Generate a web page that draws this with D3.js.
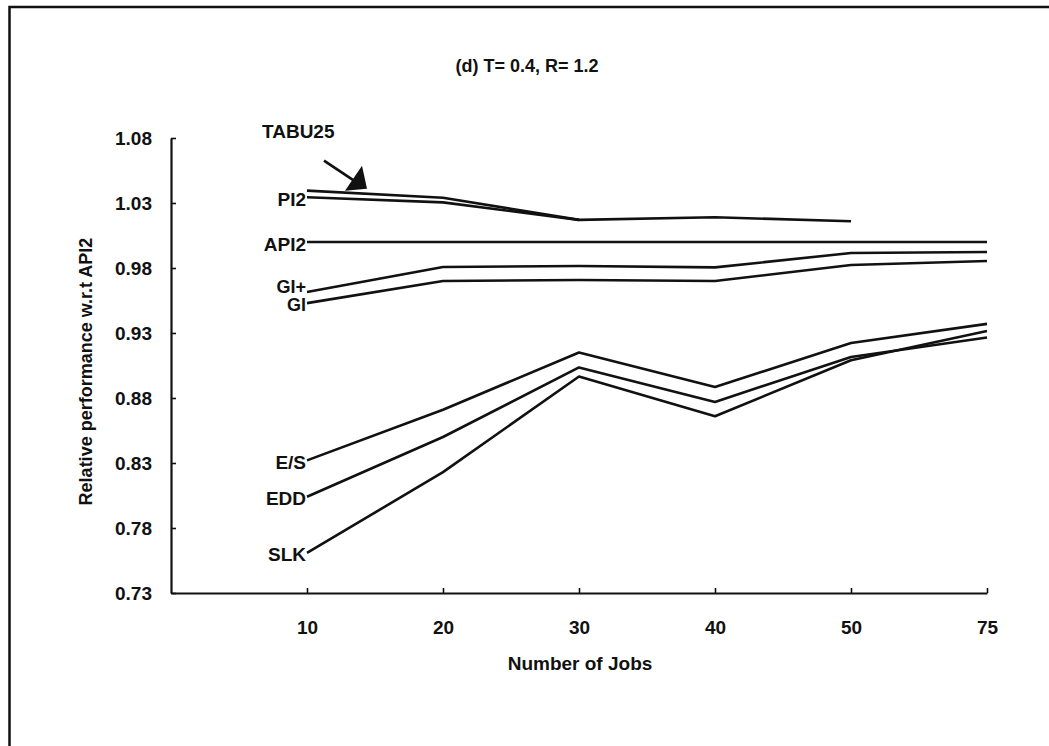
<!DOCTYPE html>
<html>
<head>
<meta charset="utf-8">
<script src="https://cdn.jsdelivr.net/npm/d3@7"></script>
<style>
  html, body { margin: 0; padding: 0; background: #fff; }
  svg { display: block; }
  text { font-family: "Liberation Sans", Arial, Helvetica, sans-serif; fill: #111; }
</style>
</head>
<body>
<svg id="chart" width="1049" height="746"></svg>
<script>
// ---- data ----
const categories = ["10", "20", "30", "40", "50", "75"];
const yTicks = [0.73, 0.78, 0.83, 0.88, 0.93, 0.98, 1.03, 1.08];

const TABU25 = [1.0395, 1.034, 1.017, 1.019, 1.016, null];
const PI2    = [1.0344, 1.0305, 1.017, null, null, null];
const API2   = [1.0, 1.0, 1.0, 1.0, 1.0, 1.0];
const GIplus = [0.9615, 0.9808, 0.9815, 0.9805, 0.9915, 0.9923];
const GI     = [0.953, 0.970, 0.9708, 0.970, 0.9823, 0.9854];
const ES     = [0.832, 0.871, 0.915, 0.8885, 0.9223, 0.937];
const EDD    = [0.804, 0.850, 0.9035, 0.877, 0.9115, 0.9265];
const SLK    = [0.7608, 0.823, 0.8965, 0.866, 0.909, 0.9315];

const seriesNames = ["TABU25", "PI2", "API2", "GI+", "GI", "E/S", "EDD", "SLK"];
const seriesValues = [TABU25, PI2, API2, GIplus, GI, ES, EDD, SLK];

const title = "(d) T= 0.4, R= 1.2";
const xTitle = "Number of Jobs";
const yTitle = "Relative performance w.r.t API2";

// ---- drawing ----
const svg = d3.select("#chart");
const W = 1049, H = 746;

// frame (top + left edges, as in the scanned figure)
svg.append("path")
  .attr("d", `M9.5,${H} L9.5,7 L${W},7`)
  .attr("fill", "none").attr("stroke", "#111").attr("stroke-width", 2.5);

const x = d3.scaleLinear().domain([-1, categories.length - 1]).range([171, 987]);
const y = d3.scaleLinear().domain([0.73, 1.08]).range([593, 138]);

// x axis
const xAxis = d3.axisBottom(x)
  .tickValues(d3.range(categories.length))
  .tickFormat(i => categories[i])
  .tickSize(-5).tickSizeOuter(0).tickPadding(28);
const gx = svg.append("g").attr("transform", `translate(0,${y(0.73)})`).call(xAxis);
gx.select(".domain").attr("stroke", "#111").attr("stroke-width", 2.2);
gx.selectAll(".tick line").attr("stroke", "#111").attr("stroke-width", 1.6);
gx.selectAll(".tick text").attr("font-size", 19).attr("font-weight", "bold")
  .attr("font-family", "Liberation Sans, Arial, sans-serif").attr("fill", "#111");

// y axis
const yAxis = d3.axisLeft(y)
  .tickValues(yTicks)
  .tickFormat(d3.format(".2f"))
  .tickSize(-5).tickSizeOuter(0).tickPadding(19);
const gy = svg.append("g").attr("transform", `translate(${x(-1)},0)`).call(yAxis);
gy.select(".domain").attr("stroke", "#111").attr("stroke-width", 2.2);
gy.selectAll(".tick line").attr("stroke", "#111").attr("stroke-width", 1.6);
gy.selectAll(".tick text").attr("font-size", 19).attr("font-weight", "bold")
  .attr("font-family", "Liberation Sans, Arial, sans-serif").attr("fill", "#111");

// titles
svg.append("text").attr("x", 527).attr("y", 66)
  .attr("text-anchor", "middle").attr("dominant-baseline", "central")
  .attr("font-size", 18).attr("font-weight", "bold").text(title);
svg.append("text").attr("x", 580).attr("y", 663)
  .attr("text-anchor", "middle").attr("dominant-baseline", "central")
  .attr("font-size", 19).attr("font-weight", "bold").text(xTitle);
svg.append("text")
  .attr("transform", `translate(86,${(y(0.73) + y(1.08)) / 2 + 6}) rotate(-90)`)
  .attr("text-anchor", "middle").attr("dominant-baseline", "central")
  .attr("font-size", 18).attr("font-weight", "bold").text(yTitle);

// lines
const line = d3.line()
  .defined(d => d != null)
  .x((d, i) => x(i))
  .y(d => y(d));

svg.append("g").selectAll("path")
  .data(seriesValues)
  .join("path")
  .attr("d", d => line(d))
  .attr("fill", "none")
  .attr("stroke", "#111")
  .attr("stroke-width", 2.6)
  .attr("stroke-linejoin", "round");

// series labels at line starts
const labelShift = { "GI+": -5, "GI": 2 };
const labelG = svg.append("g");
seriesNames.forEach((name, k) => {
  const v0 = seriesValues[k][0];
  if (name === "TABU25") {
    const x0 = x(0), y0 = y(v0);
    labelG.append("text").attr("x", x0 - 45).attr("y", y0 - 59)
      .attr("dominant-baseline", "central")
      .attr("font-size", 19).attr("font-weight", "bold").text(name);
    labelG.append("line")
      .attr("x1", x0 + 17).attr("y1", y0 - 30)
      .attr("x2", x0 + 47).attr("y2", y0 - 10)
      .attr("stroke", "#111").attr("stroke-width", 2.6);
    labelG.append("path")
      .attr("d", `M${x0 + 38},${y0} L${x0 + 55},${y0 - 25} L${x0 + 60},${y0 - 2} Z`)
      .attr("fill", "#111");
  } else {
    const dy = labelShift[name] != null ? labelShift[name] : 2;
    labelG.append("text").attr("x", x(0) - 1).attr("y", y(v0) + dy)
      .attr("text-anchor", "end").attr("dominant-baseline", "central")
      .attr("font-size", name === "GI+" || name === "GI" ? 18 : 19)
      .attr("font-weight", "bold").text(name);
  }
});
</script>
</body>
</html>
